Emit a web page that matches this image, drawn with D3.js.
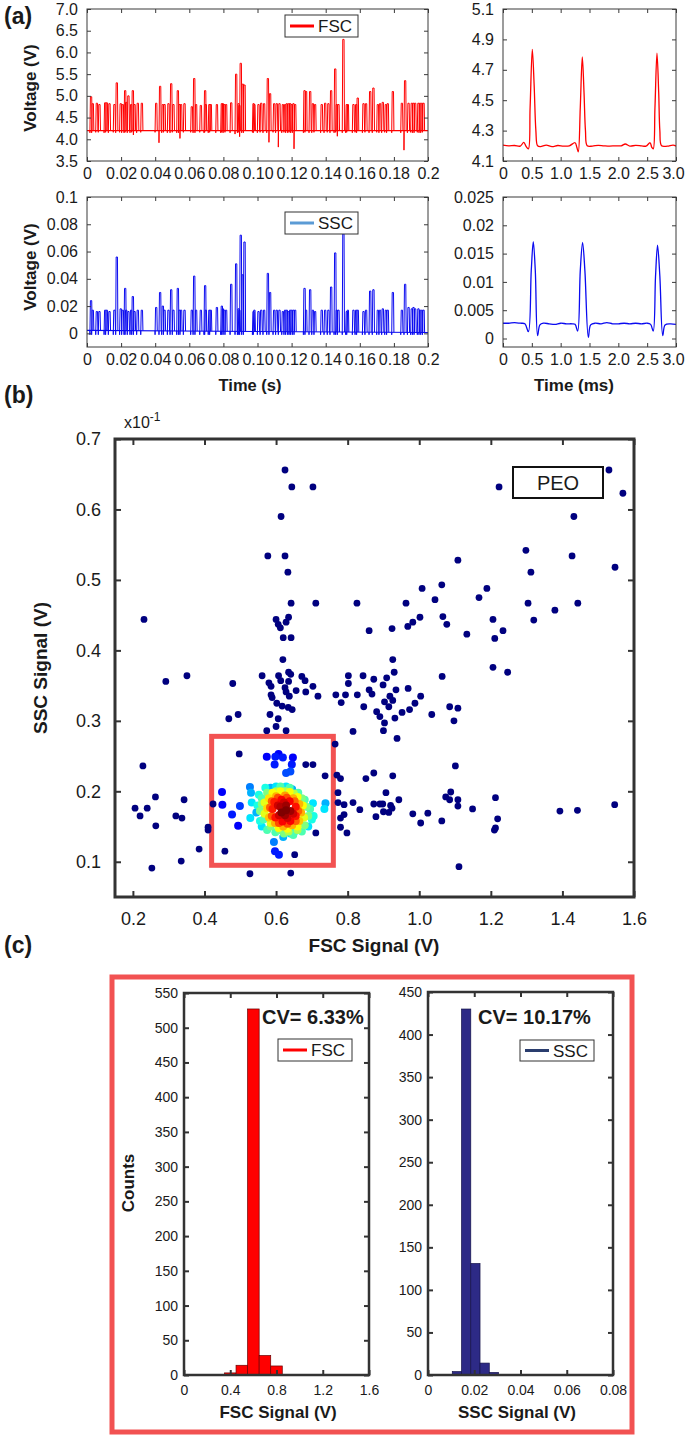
<!DOCTYPE html>
<html>
<head>
<meta charset="utf-8">
<script src="https://cdn.jsdelivr.net/npm/d3@7"></script>
<style>
  body { margin: 0; background: #fff; }
  svg text { font-family: "Liberation Sans", Arial, Helvetica, sans-serif; fill: #1a1a1a; }
</style>
</head>
<body>
<svg id="fig" width="685" height="1438"></svg>
<script>
// ---------- panel (a): pulse trains, columns = [time s, FSC peak V, FSC dip V, SSC peak V]
const pulses = [
  [0.0023,4.98,4.15,0.024],[0.0033,4.82,4.15,0.017],[0.0057,4.83,4.16,0.016],[0.0072,4.80,4.16,0.016],
  [0.0106,4.84,4.15,0.017],[0.0115,4.84,4.16,0.017],[0.0131,4.82,4.15,0.016],[0.0160,4.80,4.16,0.017],
  [0.0174,5.30,4.15,0.056],[0.0197,4.82,4.16,0.018],[0.0209,4.80,4.15,0.017],[0.0223,5.12,4.15,0.033],
  [0.0229,4.85,4.16,0.017],[0.0242,5.00,4.15,0.016],[0.0258,4.80,4.15,0.017],[0.0268,5.12,4.16,0.027],
  [0.0278,4.80,4.10,0.016],[0.0297,4.83,4.15,0.017],[0.0321,4.83,4.16,0.017],
  [0.0405,4.83,4.16,0.019],[0.0428,5.22,3.92,0.030],[0.0444,4.80,4.15,0.020],[0.0454,4.80,4.16,0.017],
  [0.0477,4.82,4.15,0.017],[0.0493,5.28,4.15,0.032],[0.0506,4.80,4.16,0.017],[0.0532,5.12,4.15,0.033],
  [0.0542,4.80,4.15,0.017],[0.0551,4.80,4.02,0.017],[0.0571,4.82,4.16,0.017],[0.0614,4.75,4.16,0.017],
  [0.0628,5.40,4.15,0.042],[0.0639,4.80,4.15,0.017],[0.0667,4.78,4.16,0.017],[0.0692,5.12,4.15,0.035],
  [0.0696,4.80,4.16,0.017],[0.0717,4.80,4.15,0.017],[0.0725,4.80,4.16,0.017],[0.0761,4.80,4.15,0.019],
  [0.0790,4.82,4.15,0.020],[0.0796,4.82,4.16,0.018],[0.0804,4.80,4.15,0.017],[0.0815,4.80,4.16,0.017],
  [0.0845,4.84,4.15,0.036],[0.0874,5.50,4.12,0.051],[0.0888,4.82,4.15,0.018],[0.0893,4.78,4.16,0.017],
  [0.0901,5.75,4.06,0.072],[0.0913,5.27,4.15,0.043],[0.0923,5.25,4.15,0.067],
  [0.0976,4.82,4.16,0.016],[0.0981,4.80,4.15,0.017],[0.1005,4.80,4.15,0.016],[0.1021,4.83,4.16,0.017],
  [0.1038,4.82,4.15,0.017],[0.1060,5.40,4.15,0.044],[0.1073,5.05,3.93,0.030],[0.1097,4.82,4.16,0.017],
  [0.1112,4.82,4.15,0.017],[0.1128,4.82,3.82,0.017],[0.1148,4.80,4.15,0.016],[0.1161,4.80,4.16,0.017],
  [0.1171,4.82,4.15,0.017],[0.1183,4.82,4.15,0.016],[0.1191,4.82,4.16,0.017],[0.1200,4.80,4.15,0.017],
  [0.1210,4.82,4.15,0.017],[0.1220,4.80,3.78,0.017],
  [0.1275,5.12,4.15,0.033],[0.1284,5.10,4.16,0.017],[0.1308,5.10,4.15,0.032],[0.1324,4.82,4.15,0.017],
  [0.1337,4.80,4.16,0.016],[0.1376,4.80,4.15,0.017],[0.1396,4.83,4.15,0.017],[0.1415,4.82,4.16,0.017],
  [0.1431,5.12,4.15,0.034],[0.1455,5.62,4.15,0.059],[0.1464,4.80,4.16,0.017],[0.1474,4.80,4.07,0.017],
  [0.1503,6.30,4.15,0.073],[0.1523,4.80,4.15,0.016],[0.1529,4.80,4.16,0.017],[0.1562,4.80,4.15,0.017],
  [0.1578,4.80,4.16,0.017],[0.1587,4.95,4.15,0.017],[0.1621,4.82,4.15,0.016],[0.1636,4.82,4.16,0.017],
  [0.1660,5.10,4.15,0.031],[0.1679,5.18,4.15,0.032],[0.1705,4.80,4.16,0.017],[0.1718,4.82,4.15,0.017],
  [0.1734,4.85,4.15,0.018],[0.1752,4.80,4.16,0.017],[0.1763,4.82,4.15,0.017],[0.1793,5.10,4.15,0.030],
  [0.1846,4.83,4.15,0.017],[0.1865,5.35,3.75,0.036],[0.1885,4.83,4.15,0.019],[0.1904,4.83,4.16,0.018],
  [0.1914,4.83,4.15,0.019],[0.1924,4.83,4.15,0.018],[0.1943,4.83,4.16,0.018],[0.1953,4.83,4.15,0.017],
  [0.1963,4.83,4.15,0.017],[0.1973,4.83,4.16,0.017]
];
const fscBaseline = [[0, 4.2], [0.2, 4.2]];
const sscBaseline = [[0, 0.0022], [0.2, 0.0006]];
const sscDip = -0.001;

// zoomed pulses (time ms, volts)
const fscZoom = [
  [0,4.205],[0.1,4.2],[0.2,4.202],[0.3,4.198],[0.36,4.222],[0.40,4.196],[0.44,4.18],[0.47,4.45],
  [0.508,4.835],[0.54,4.6],[0.57,4.3],[0.60,4.2],[0.65,4.195],[0.75,4.205],[0.85,4.195],[0.95,4.202],
  [1.05,4.198],[1.15,4.2],[1.25,4.22],[1.28,4.19],[1.305,4.16],[1.34,4.45],[1.375,4.785],[1.405,4.55],
  [1.43,4.3],[1.46,4.2],[1.55,4.198],[1.65,4.203],[1.75,4.2],[1.85,4.198],[1.95,4.2],[2.05,4.2],
  [2.12,4.212],[2.2,4.198],[2.3,4.203],[2.4,4.2],[2.48,4.198],[2.55,4.22],[2.58,4.19],[2.605,4.18],
  [2.635,4.45],[2.67,4.81],[2.70,4.55],[2.72,4.3],[2.75,4.2],[2.85,4.198],[2.95,4.205],[3.0,4.198]
];
const sscZoom = [
  [0,0.0027],[0.1,0.0027],[0.2,0.0028],[0.3,0.0027],[0.38,0.0026],[0.44,0.0012],[0.49,0.012],
  [0.525,0.0171],[0.56,0.012],[0.60,0.0005],[0.64,0.0024],[0.7,0.0027],[0.8,0.0026],[0.9,0.0025],
  [1.0,0.0027],[1.1,0.0026],[1.2,0.0026],[1.25,0.0025],[1.295,0.0013],[1.34,0.012],[1.38,0.017],
  [1.42,0.012],[1.48,0.0002],[1.52,0.0024],[1.6,0.0027],[1.7,0.0026],[1.8,0.0028],[1.9,0.0026],
  [2.0,0.0026],[2.1,0.0027],[2.2,0.0026],[2.3,0.0027],[2.4,0.0026],[2.5,0.0027],[2.56,0.0025],
  [2.605,0.0013],[2.645,0.011],[2.68,0.0165],[2.72,0.011],[2.77,0.0005],[2.81,0.0024],[2.9,0.0026],[3.0,0.0025]
];

const timeTicks = [0,0.02,0.04,0.06,0.08,0.10,0.12,0.14,0.16,0.18,0.2];
const timeLabels = ["0","0.02","0.04","0.06","0.08","0.10","0.12","0.14","0.16","0.18","0.2"];
const msTicks = [0,0.5,1,1.5,2,2.5,3];
const msLabels = ["0","0.5","1.0","1.5","2.0","2.5","3.0"];
const fscTicks = [3.5,4,4.5,5,5.5,6,6.5,7];
const fscLabels = ["3.5","4.0","4.5","5.0","5.5","6.0","6.5","7.0"];
const fscZTicks = [4.1,4.3,4.5,4.7,4.9,5.1];
const fscZLabels = ["4.1","4.3","4.5","4.7","4.9","5.1"];
const sscTicks = [0,0.02,0.04,0.06,0.08,0.1];
const sscLabels = ["0","0.02","0.04","0.06","0.08","0.1"];
const sscZTicks = [0,0.005,0.01,0.015,0.02,0.025];
const sscZLabels = ["0","0.005","0.01","0.015","0.02","0.025"];

// ---------- panel (b): scatter, FSC vs SSC (x10^-1)
const scatterPts = [
  [0.625,0.656],[0.644,0.632],[0.703,0.632],[0.614,0.590],[0.577,0.534],[0.625,0.534],[0.633,0.511],
  [0.642,0.467],[0.711,0.467],[0.231,0.444],[0.600,0.444],[0.606,0.437],[0.612,0.432],[0.635,0.447],
  [0.628,0.440],[0.620,0.418],[0.642,0.418],
  [1.223,0.632],[1.530,0.656],[1.569,0.623],[1.432,0.590],[1.298,0.542],[1.427,0.534],[1.547,0.518],
  [1.312,0.511],[1.108,0.528],[1.008,0.488],[1.063,0.493],[1.189,0.488],[1.167,0.475],[1.044,0.472],
  [0.826,0.467],[0.963,0.467],[1.304,0.467],[1.443,0.467],[1.379,0.457],[1.002,0.447],[0.982,0.440],
  [0.968,0.434],[0.924,0.431],[0.860,0.428],[1.066,0.448],[1.077,0.437],[1.206,0.444],[1.234,0.428],
  [1.320,0.443],[1.133,0.423],[1.211,0.417],
  [0.619,0.387],[0.926,0.387],[1.206,0.376],[1.247,0.369],[0.292,0.356],[0.351,0.364],[0.479,0.353],
  [0.561,0.364],[0.580,0.354],[0.586,0.349],[0.586,0.337],[0.607,0.364],[0.613,0.357],[0.635,0.369],
  [0.641,0.366],[0.625,0.347],[0.635,0.356],[0.628,0.341],[0.637,0.335],[0.656,0.343],[0.672,0.363],
  [0.681,0.357],[0.683,0.341],[0.703,0.349],[0.717,0.335],[0.602,0.325],[0.617,0.321],[0.634,0.319],
  [0.645,0.316],[0.589,0.333],
  [0.468,0.303],[0.494,0.309],[0.583,0.309],[0.606,0.303],[0.600,0.292],[0.574,0.286],[0.628,0.286],
  [0.767,0.337],[0.782,0.326],[0.794,0.337],[0.802,0.353],[0.802,0.364],[0.827,0.337],[0.843,0.364],
  [0.845,0.320],[0.860,0.344],[0.868,0.338],[0.873,0.359],[0.881,0.313],[0.890,0.306],[0.899,0.351],
  [0.903,0.327],[0.909,0.361],[0.915,0.320],[0.918,0.335],[0.930,0.369],[0.932,0.304],[0.903,0.297],
  [0.900,0.286],[0.938,0.275],[0.926,0.329],[0.935,0.344],[0.952,0.312],[0.969,0.346],[0.973,0.316],
  [0.988,0.325],[1.004,0.335],[1.035,0.309],[0.815,0.285],[1.064,0.363],[1.085,0.320],[1.108,0.318],
  [1.097,0.300],
  [0.765,0.267],[0.228,0.236],[0.497,0.253],[0.683,0.238],[0.703,0.238],[0.737,0.222],[0.770,0.223],
  [0.780,0.218],[0.851,0.218],[0.873,0.226],[0.926,0.222],[1.101,0.236],
  [0.263,0.192],[0.206,0.176],[0.220,0.165],[0.240,0.176],[0.343,0.188],[0.264,0.151],[0.320,0.165],
  [0.337,0.162],[0.424,0.182],[0.410,0.149],
  [0.773,0.198],[0.773,0.184],[0.790,0.181],[0.790,0.167],[0.780,0.162],[0.780,0.149],[0.815,0.184],
  [0.834,0.174],[0.873,0.182],[0.890,0.182],[0.898,0.182],[0.900,0.171],[0.907,0.198],[0.915,0.170],
  [0.920,0.180],[0.924,0.176],[0.879,0.164],[0.943,0.188],[0.982,0.168],[1.004,0.155],[1.024,0.169],
  [1.063,0.158],[1.074,0.192],[1.085,0.188],[1.088,0.199],[1.108,0.188],[1.108,0.179],[1.149,0.175],
  [1.213,0.191],[1.219,0.161],[1.213,0.148],[1.393,0.172],[1.442,0.173],[1.546,0.181],
  [0.410,0.145],[0.711,0.141],[0.798,0.141],[0.385,0.118],[0.457,0.115],[0.652,0.110],[0.253,0.091],
  [0.335,0.101],[0.527,0.083],[0.641,0.084],[1.111,0.093],[1.210,0.145]
];
// dense cluster: [FSC, SSC, relative density]
const clusterPts = [
  [0.574,0.249,0.12],[0.598,0.249,0.15],[0.607,0.253,0.12],[0.596,0.238,0.15],[0.619,0.248,0.15],
  [0.647,0.248,0.12],[0.644,0.238,0.15],[0.628,0.226,0.2],[0.640,0.228,0.2],[0.449,0.199,0.12],
  [0.450,0.181,0.12],[0.494,0.151,0.12],[0.477,0.167,0.15],[0.499,0.179,0.18],[0.597,0.115,0.15],
  [0.608,0.110,0.15],
  [0.527,0.206,0.25],[0.530,0.198,0.3],[0.532,0.184,0.35],[0.528,0.162,0.35],[0.600,0.207,0.35],
  [0.585,0.205,0.3],[0.628,0.207,0.35],[0.645,0.203,0.3],[0.703,0.183,0.35],[0.738,0.183,0.3],
  [0.735,0.175,0.35],[0.594,0.128,0.25],[0.640,0.140,0.35],[0.652,0.143,0.4],[0.690,0.150,0.35],
  [0.560,0.150,0.35],[0.545,0.170,0.3],[0.705,0.165,0.4],[0.620,0.135,0.3],
  [0.570,0.205,0.4],[0.612,0.207,0.45],[0.638,0.205,0.45],[0.662,0.198,0.45],[0.680,0.188,0.45],
  [0.695,0.175,0.45],[0.700,0.160,0.4],[0.672,0.143,0.45],[0.648,0.138,0.45],[0.622,0.140,0.5],
  [0.598,0.142,0.45],[0.575,0.145,0.45],[0.555,0.158,0.4],[0.548,0.180,0.4],[0.552,0.195,0.4],
  [0.560,0.190,0.45],[0.575,0.198,0.5],[0.600,0.200,0.55],[0.625,0.200,0.55],[0.650,0.197,0.55],
  [0.672,0.190,0.5],[0.685,0.178,0.5],[0.690,0.165,0.5],[0.680,0.152,0.5],[0.660,0.145,0.55],
  [0.635,0.143,0.55],[0.610,0.145,0.5],[0.585,0.150,0.5],[0.565,0.160,0.45],[0.555,0.172,0.5],
  [0.560,0.182,0.5],
  [0.590,0.198,0.62],[0.612,0.200,0.62],[0.638,0.199,0.62],[0.660,0.192,0.62],[0.675,0.180,0.62],
  [0.678,0.163,0.6],[0.660,0.150,0.62],[0.632,0.147,0.62],[0.607,0.148,0.62],[0.585,0.155,0.6],
  [0.568,0.168,0.6],[0.568,0.184,0.6],
  [0.580,0.190,0.65],[0.600,0.193,0.7],[0.625,0.194,0.72],[0.648,0.190,0.7],[0.665,0.182,0.7],
  [0.670,0.170,0.7],[0.665,0.158,0.68],[0.645,0.152,0.7],[0.620,0.150,0.7],[0.597,0.155,0.7],
  [0.580,0.163,0.68],[0.575,0.176,0.66],
  [0.588,0.186,0.78],[0.605,0.191,0.8],[0.630,0.191,0.8],[0.652,0.186,0.78],[0.662,0.172,0.78],
  [0.655,0.158,0.78],[0.632,0.154,0.8],[0.608,0.155,0.8],[0.588,0.165,0.78],[0.583,0.177,0.78],
  [0.595,0.185,0.85],[0.615,0.188,0.88],[0.638,0.186,0.88],[0.655,0.178,0.86],[0.655,0.165,0.86],
  [0.640,0.158,0.88],[0.618,0.157,0.88],[0.598,0.163,0.86],[0.590,0.175,0.85],
  [0.605,0.180,0.92],[0.648,0.168,0.92],[0.632,0.162,0.92],[0.608,0.166,0.92],[0.622,0.184,0.92],
  [0.612,0.178,0.95],[0.628,0.180,0.97],[0.640,0.172,0.97],[0.625,0.166,0.97],[0.615,0.170,1.0],
  [0.628,0.173,1.0]
];
const gateBox = [[0.42, 0.095], [0.76, 0.278]];
const scXTicks = [0.2,0.4,0.6,0.8,1.0,1.2,1.4,1.6];
const scXLabels = ["0.2","0.4","0.6","0.8","1.0","1.2","1.4","1.6"];
const scYTicks = [0.1,0.2,0.3,0.4,0.5,0.6,0.7];
const scYLabels = ["0.1","0.2","0.3","0.4","0.5","0.6","0.7"];

// ---------- panel (c): histograms of the gated population
const fscBinEdges = [0.35,0.45,0.55,0.65,0.75,0.85];
const fscCounts = [3,14,527,28,13];
const sscBinEdges = [0.0105,0.0145,0.0185,0.0225,0.0265,0.0305];
const sscCounts = [4,430,131,14,3];
const fscCV = "CV= 6.33%";
const sscCV = "CV= 10.17%";
const hFscXTicks = [0,0.4,0.8,1.2,1.6];
const hFscXLabels = ["0","0.4","0.8","1.2","1.6"];
const hFscYTicks = [0,50,100,150,200,250,300,350,400,450,500,550];
const hSscXTicks = [0,0.02,0.04,0.06,0.08];
const hSscXLabels = ["0","0.02","0.04","0.06","0.08"];
const hSscYTicks = [0,50,100,150,200,250,300,350,400,450];

const svg = d3.select("#fig");
const FONT = '"Liberation Sans", Arial, Helvetica, sans-serif';
const NARROW = '"Liberation Sans Narrow", "Arial Narrow", "Liberation Sans", Arial, sans-serif';

// MATLAB-like boxed axes with inward ticks on all four sides
function drawAxes(g, xs, ys, o) {
  const [xa, xb] = xs.range(), [yb, ya] = ys.range();
  const ax = g.append("g");
  ax.append("g").attr("class", "xb").attr("transform", `translate(0,${yb})`)
    .call(d3.axisBottom(xs).tickValues(o.xt).tickFormat((d, i) => o.xl[i]).tickSize(-o.tick).tickPadding(o.xpad));
  ax.append("g").attr("transform", `translate(0,${ya})`)
    .call(d3.axisTop(xs).tickValues(o.xt).tickFormat("").tickSize(-o.tick));
  ax.append("g").attr("transform", `translate(${xa},0)`)
    .call(d3.axisLeft(ys).tickValues(o.yt).tickFormat((d, i) => o.yl[i]).tickSize(-o.tick).tickPadding(o.ypad));
  ax.append("g").attr("transform", `translate(${xb},0)`)
    .call(d3.axisRight(ys).tickValues(o.yt).tickFormat("").tickSize(-o.tick));
  ax.selectAll(".domain").remove();
  ax.selectAll(".tick line").attr("stroke", o.color).attr("stroke-width", o.tw);
  ax.selectAll(".tick text").attr("font-size", o.fs).attr("font-family", o.font || FONT).attr("fill", "#1a1a1a");
  ax.append("rect").attr("x", xa).attr("y", ya).attr("width", xb - xa).attr("height", yb - ya)
    .attr("fill", "none").attr("stroke", o.color).attr("stroke-width", o.fw);
  return ax;
}

function label(x, y, str, size, weight, anchor, rot) {
  const t = svg.append("text").attr("x", x).attr("y", y).attr("font-size", size)
    .attr("font-weight", weight || "normal").attr("text-anchor", anchor || "middle").text(str);
  if (rot) t.attr("transform", `rotate(${rot},${x},${y})`);
  return t;
}

function clip(id, xs, ys) {
  const [xa, xb] = xs.range(), [yb, ya] = ys.range();
  svg.append("clipPath").attr("id", id).append("rect")
    .attr("x", xa).attr("y", ya).attr("width", xb - xa).attr("height", yb - ya);
}

// ================= (a) =================
const xT = d3.scaleLinear().domain([0, 0.2]).range([87, 428]);
const xMs = d3.scaleLinear().domain([0, 3]).range([503, 676]);
const yF = d3.scaleLinear().domain([3.5, 7.0]).range([161, 9]);
const yFz = d3.scaleLinear().domain([4.1, 5.1]).range([161, 9]);
const yS = d3.scaleLinear().domain([-0.01, 0.1]).range([347, 197]);
const ySz = d3.scaleLinear().domain([-0.0015, 0.025]).range([347, 197]);

const aOpt = { tick: 4, tw: 1, fs: 16, xpad: 7, ypad: 9, color: "#3a3a3a", fw: 1, font: NARROW };
clip("cF", xT, yF); clip("cS", xT, yS); clip("cFz", xMs, yFz); clip("cSz", xMs, ySz);

function pulseTrain(id, xs, ys, base, peakIdx, dipFn, color) {
  const g = svg.append("g").attr("clip-path", `url(#${id})`);
  g.append("path").datum(base)
    .attr("d", d3.line().x(d => xs(d[0])).y(d => ys(d[1])))
    .attr("fill", "none").attr("stroke", color).attr("stroke-width", 1.1);
  const baseAt = d3.scaleLinear().domain(base.map(d => d[0])).range(base.map(d => d[1]));
  g.selectAll("path.p").data(pulses).join("path").attr("class", "p")
    .attr("d", d => {
      const x = xs(d[0]), yb = ys(baseAt(d[0])), yd = ys(dipFn(d)), yp = ys(d[peakIdx]);
      return `M${x - 1},${yb}L${x - 1},${yd}L${x - 0.5},${yp}L${x + 0.8},${yp}L${x + 1.2},${yb}`;
    })
    .attr("fill", "none").attr("stroke", color).attr("stroke-width", 1);
}

pulseTrain("cF", xT, yF, fscBaseline, 1, d => d[2], "#ff0000");
pulseTrain("cS", xT, yS, sscBaseline, 3, d => sscDip, "#0a0af0");

const smooth = d3.line().curve(d3.curveCatmullRom.alpha(0.5));
svg.append("g").attr("clip-path", "url(#cFz)").append("path").datum(fscZoom)
  .attr("d", smooth.x(d => xMs(d[0])).y(d => yFz(d[1])))
  .attr("fill", "none").attr("stroke", "#ff0000").attr("stroke-width", 1.3);
svg.append("g").attr("clip-path", "url(#cSz)").append("path").datum(sscZoom)
  .attr("d", smooth.x(d => xMs(d[0])).y(d => ySz(d[1])))
  .attr("fill", "none").attr("stroke", "#0a0af0").attr("stroke-width", 1.3);

drawAxes(svg, xT, yF, Object.assign({ xt: timeTicks, xl: timeLabels, yt: fscTicks, yl: fscLabels }, aOpt));
const axFz = drawAxes(svg, xMs, yFz, Object.assign({ xt: msTicks, xl: msLabels, yt: fscZTicks, yl: fscZLabels }, aOpt));
drawAxes(svg, xT, yS, Object.assign({ xt: timeTicks, xl: timeLabels, yt: sscTicks, yl: sscLabels }, aOpt));
const axSz = drawAxes(svg, xMs, ySz, Object.assign({ xt: msTicks, xl: msLabels, yt: sscZTicks, yl: sscZLabels }, aOpt));
// keep the last "3.0" inside the page
[axFz, axSz].forEach(ax => ax.selectAll(".xb .tick text").filter((d, i, n) => i === n.length - 1).attr("dx", -3));

// legends
function legend(x, y, w, h, color, txt, size, lw) {
  svg.append("rect").attr("x", x).attr("y", y).attr("width", w).attr("height", h)
    .attr("fill", "#fff").attr("stroke", "#333").attr("stroke-width", 1);
  svg.append("line").attr("x1", x + 5).attr("x2", x + 29).attr("y1", y + h / 2).attr("y2", y + h / 2)
    .attr("stroke", color).attr("stroke-width", lw);
  label(x + 33, y + h / 2 + size * 0.36, txt, size, "normal", "start");
}
legend(285, 15, 73, 22, "#ff0000", "FSC", 17, 3);
legend(285, 212, 73, 22, "#5b9bd5", "SSC", 17, 3);

label(4, 24, "(a)", 23, "bold", "start");
label(36, 88, "Voltage (V)", 17, "bold", "middle", -90);
label(36, 267, "Voltage (V)", 17, "bold", "middle", -90);
label(250, 391, "Time (s)", 16.5, "bold");
label(574, 391, "Time (ms)", 17, "bold");

// ================= (b) =================
const xB = d3.scaleLinear().domain([0.15, 1.6]).range([115, 634]);
const yB = d3.scaleLinear().domain([0.05, 0.7]).range([897, 439]);
const jet = d3.scaleLinear()
  .domain([0, 0.125, 0.25, 0.375, 0.5, 0.625, 0.75, 0.875, 1])
  .range(["#00007f", "#0000ff", "#007fff", "#00ffff", "#7fff7f", "#ffff00", "#ff7f00", "#ff0000", "#7f0000"]);

svg.append("rect")
  .attr("x", xB(gateBox[0][0])).attr("y", yB(gateBox[1][1]))
  .attr("width", xB(gateBox[1][0]) - xB(gateBox[0][0]))
  .attr("height", yB(gateBox[0][1]) - yB(gateBox[1][1]))
  .attr("fill", "none").attr("stroke", "#f25252").attr("stroke-width", 5);

svg.append("g").selectAll("circle").data(scatterPts).join("circle")
  .attr("cx", d => xB(d[0])).attr("cy", d => yB(d[1])).attr("r", 3.4)
  .attr("fill", jet(0));
svg.append("g").selectAll("circle").data(clusterPts.slice().sort((a, b) => a[2] - b[2])).join("circle")
  .attr("cx", d => xB(d[0])).attr("cy", d => yB(d[1])).attr("r", 4)
  .attr("fill", d => jet(d[2]));

drawAxes(svg, xB, yB, { xt: scXTicks, xl: scXLabels, yt: scYTicks, yl: scYLabels,
  tick: 6, tw: 2, fs: 18, xpad: 15, ypad: 14, color: "#333", fw: 3 });

svg.append("rect").attr("x", 513).attr("y", 467).attr("width", 90).attr("height", 31)
  .attr("fill", "#fff").attr("stroke", "#111").attr("stroke-width", 2);
label(558, 490, "PEO", 20);

const mult = label(124, 428, "x10", 16, "normal", "start");
mult.append("tspan").attr("dy", -7).attr("font-size", 12).text("-1");

label(4, 403, "(b)", 23, "bold", "start");
label(47, 668, "SSC Signal (V)", 19, "bold", "middle", -90);
label(374, 952, "FSC Signal (V)", 19, "bold");

// ================= (c) =================
label(4, 953, "(c)", 23, "bold", "start");
svg.append("rect").attr("x", 112).attr("y", 977).attr("width", 520).attr("height", 455)
  .attr("fill", "none").attr("stroke", "#f25252").attr("stroke-width", 5);

const xH1 = d3.scaleLinear().domain([0, 1.6]).range([184, 369]);
const yH1 = d3.scaleLinear().domain([0, 550]).range([1375, 993]);
const xH2 = d3.scaleLinear().domain([0, 0.08]).range([428, 613]);
const yH2 = d3.scaleLinear().domain([0, 450]).range([1375, 992]);

function bars(xs, ys, edges, counts, fill, edge) {
  svg.append("g").selectAll("rect").data(counts).join("rect")
    .attr("x", (d, i) => xs(edges[i])).attr("width", (d, i) => xs(edges[i + 1]) - xs(edges[i]))
    .attr("y", d => ys(d)).attr("height", d => ys(0) - ys(d))
    .attr("fill", fill).attr("stroke", edge).attr("stroke-width", 0.7);
}
bars(xH1, yH1, fscBinEdges, fscCounts, "#ff0000", "#6a0000");
bars(xH2, yH2, sscBinEdges, sscCounts, "#2d2a86", "#15134a");

const cOpt = { tick: 5, tw: 2, fs: 14, xpad: 10, ypad: 6, color: "#333", fw: 2.5 };
drawAxes(svg, xH1, yH1, Object.assign({ xt: hFscXTicks, xl: hFscXLabels, yt: hFscYTicks, yl: hFscYTicks.map(String) }, cOpt));
drawAxes(svg, xH2, yH2, Object.assign({ xt: hSscXTicks, xl: hSscXLabels, yt: hSscYTicks, yl: hSscYTicks.map(String) }, cOpt));

label(262, 1024, fscCV, 20, "bold", "start");
label(478, 1024, sscCV, 20, "bold", "start");
legend(278, 1039, 74, 22, "#ff0000", "FSC", 17, 3);
legend(520, 1040, 74, 21, "#2a3d6e", "SSC", 17, 3);

label(134, 1183, "Counts", 17, "bold", "middle", -90);
label(278, 1418, "FSC Signal (V)", 17, "bold");
label(517, 1418, "SSC Signal (V)", 17, "bold");
</script>
</body>
</html>
